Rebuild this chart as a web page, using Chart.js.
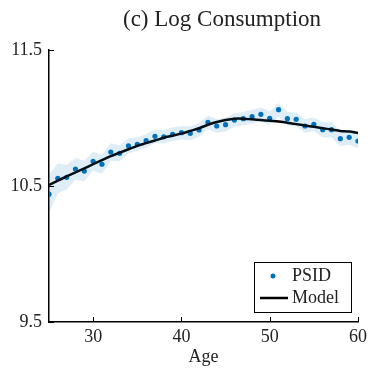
<!DOCTYPE html>
<html>
<head>
<meta charset="utf-8">
<script src="https://cdn.jsdelivr.net/npm/chart.js@4"></script>
<style>
  html, body { margin: 0; padding: 0; background: #fff; }
  #wrap { width: 371px; height: 368px; }
</style>
</head>
<body>
<div id="wrap"><canvas id="c" width="371" height="368"></canvas></div>
<script>
var ages = [25, 26, 27, 28, 29, 30, 31, 32, 33, 34, 35, 36, 37, 38, 39, 40, 41, 42,
            43, 44, 45, 46, 47, 48, 49, 50, 51, 52, 53, 54, 55, 56, 57, 58, 59, 60];
var psid = [10.44, 10.557, 10.564, 10.625, 10.61, 10.682, 10.66, 10.75, 10.74, 10.796, 10.807, 10.833,
            10.865, 10.862, 10.88, 10.892, 10.887, 10.912, 10.968, 10.941, 10.951, 10.985, 10.995, 11.01,
            11.027, 10.998, 11.061, 10.995, 10.99, 10.941, 10.954, 10.914, 10.914, 10.848, 10.858, 10.831];
var bandUpper = [10.58, 10.667, 10.654, 10.705, 10.685, 10.752, 10.73, 10.815, 10.80, 10.851, 10.857, 10.883,
                 10.915, 10.912, 10.93, 10.942, 10.937, 10.962, 11.018, 10.991, 11.001, 11.035, 11.045, 11.06,
                 11.077, 11.048, 11.111, 11.045, 11.04, 10.991, 11.004, 10.969, 10.969, 10.903, 10.913, 10.886];
var bandLower = [10.30, 10.447, 10.474, 10.545, 10.535, 10.612, 10.59, 10.685, 10.68, 10.741, 10.757, 10.783,
                 10.815, 10.812, 10.83, 10.842, 10.837, 10.862, 10.918, 10.891, 10.901, 10.935, 10.945, 10.96,
                 10.977, 10.948, 11.011, 10.945, 10.94, 10.891, 10.904, 10.859, 10.859, 10.793, 10.803, 10.776];
var model = [10.507, 10.54, 10.57, 10.60, 10.63, 10.66, 10.69, 10.72, 10.745, 10.77, 10.795, 10.815,
             10.835, 10.855, 10.87, 10.885, 10.905, 10.925, 10.95, 10.97, 10.985, 10.995, 10.995, 10.99,
             10.985, 10.98, 10.975, 10.965, 10.955, 10.945, 10.935, 10.925, 10.915, 10.905, 10.90, 10.89];
var xTicks = [30, 40, 50, 60];
var yTicks = [9.5, 10.5, 11.5];

var BLUE = '#0072bd';
var BAND = 'rgba(0,114,189,0.13)';
var SERIF = "'Liberation Serif', 'DejaVu Serif', serif";
var TXT = '#222';

function pts(ys) {
  return ages.map(function(a, i) { return { x: a, y: ys[i] }; });
}

// title, inward tick marks and the boxed legend
var extras = {
  id: 'extras',
  afterDraw: function(chart) {
    var c = chart.ctx, a = chart.chartArea;
    var sx = chart.scales.x, sy = chart.scales.y;
    c.save();
    c.fillStyle = TXT;
    c.font = '23px ' + SERIF;
    c.textAlign = 'center';
    c.textBaseline = 'middle';
    c.fillText('(c) Log Consumption', 222, 20);

    c.strokeStyle = '#000';
    c.lineWidth = 1;
    xTicks.forEach(function(v) {
      var px = Math.round(sx.getPixelForValue(v)) + 0.5;
      c.beginPath(); c.moveTo(px, a.bottom); c.lineTo(px, a.bottom - 5); c.stroke();
    });
    yTicks.forEach(function(v) {
      var py = Math.round(sy.getPixelForValue(v)) + 0.5;
      c.beginPath(); c.moveTo(a.left, py); c.lineTo(a.left + 5, py); c.stroke();
    });

    // legend
    c.fillStyle = '#fff';
    c.fillRect(254, 262, 97, 50);
    c.strokeRect(254.5, 262.5, 97, 50);
    c.fillStyle = BLUE;
    c.beginPath(); c.arc(273, 276, 2.5, 0, Math.PI * 2); c.fill();
    c.strokeStyle = '#000';
    c.lineWidth = 2.5;
    c.beginPath(); c.moveTo(260, 298); c.lineTo(288, 298); c.stroke();
    c.fillStyle = TXT;
    c.font = '18px ' + SERIF;
    c.textAlign = 'left';
    c.fillText('PSID', 292, 276);
    c.fillText('Model', 292, 298);
    c.restore();
  }
};

new Chart(document.getElementById('c'), {
  type: 'scatter',
  data: {
    datasets: [
      { data: pts(bandUpper), showLine: true, pointRadius: 0, borderWidth: 0,
        borderColor: 'rgba(0,0,0,0)', backgroundColor: BAND, fill: '+1' },
      { data: pts(bandLower), showLine: true, pointRadius: 0, borderWidth: 0,
        borderColor: 'rgba(0,0,0,0)', backgroundColor: BAND, fill: false },
      { label: 'Model', data: pts(model), showLine: true, pointRadius: 0,
        borderColor: '#000', borderWidth: 2.5, fill: false, tension: 0.3 },
      { label: 'PSID', data: pts(psid), showLine: false, pointRadius: 2.6,
        pointBorderWidth: 0, backgroundColor: BLUE, borderColor: BLUE }
    ]
  },
  options: {
    responsive: false,
    animation: false,
    events: [],
    layout: { padding: { left: 0, right: 11, top: 50, bottom: 0 } },
    plugins: { legend: { display: false }, tooltip: { enabled: false } },
    scales: {
      x: {
        type: 'linear', min: 25, max: 60,
        afterBuildTicks: function(s) { s.ticks = xTicks.map(function(v) { return { value: v }; }); },
        afterFit: function(s) { s.height = 46; },
        grid: { display: false, drawTicks: false },
        border: { display: true, color: '#000', width: 1.5 },
        ticks: { color: TXT, padding: 4, maxRotation: 0, font: { family: SERIF, size: 18 } },
        title: { display: true, text: 'Age', color: TXT, padding: { top: 1, bottom: 0 },
                 font: { family: SERIF, size: 18 } }
      },
      y: {
        min: 9.5, max: 11.5,
        afterBuildTicks: function(s) { s.ticks = yTicks.map(function(v) { return { value: v }; }); },
        afterFit: function(s) { s.width = 49; },
        grid: { display: false, drawTicks: false },
        border: { display: true, color: '#000', width: 1.5 },
        ticks: { color: TXT, padding: 7, font: { family: SERIF, size: 18 },
                 callback: function(v) { return v.toFixed(1); } }
      }
    }
  },
  plugins: [extras]
});
</script>
</body>
</html>
